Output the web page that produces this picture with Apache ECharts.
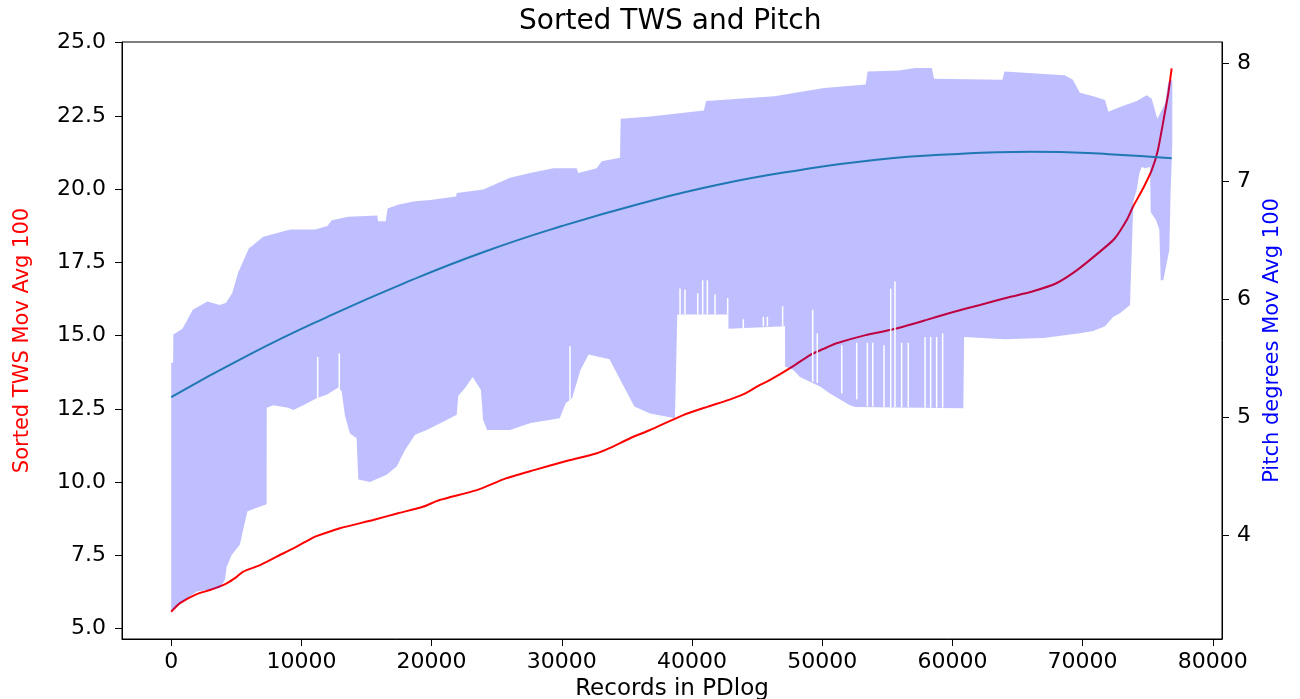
<!DOCTYPE html>
<html>
<head>
<meta charset="utf-8">
<script src="https://cdn.jsdelivr.net/npm/echarts@6/dist/echarts.min.js"></script>
<style>html,body{margin:0;padding:0;background:#fff}#c{width:1300px;height:699px}</style>
</head>
<body>
<div id="c"></div>
<script>
// ---- data ----
const xTicks = [0, 10000, 20000, 30000, 40000, 50000, 60000, 70000, 80000];
const leftTicks = [5, 7.5, 10, 12.5, 15, 17.5, 20, 22.5, 25];
const rightTicks = [4, 5, 6, 7, 8];

// Sorted TWS moving average (left axis)
const twsSorted = [
  [0,5.58],[675,5.87],[1960,6.18],[2980,6.32],[4260,6.55],[5030,6.77],[5540,6.95],[6820,7.17],
  [8100,7.46],[9380,7.74],[10660,8.05],[11050,8.14],[12960,8.43],[15510,8.71],[17420,8.94],
  [19330,9.16],[20610,9.39],[23470,9.73],[25700,10.13],[27930,10.42],[30150,10.70],[32700,10.99],
  [33660,11.16],[35250,11.50],[36780,11.78],[39320,12.29],[41230,12.58],[42830,12.81],[44100,13.03],
  [45220,13.32],[46000,13.49],[47530,13.89],[49060,14.34],[50150,14.56],[51110,14.74],[53330,15.02],
  [55460,15.22],[58020,15.54],[60000,15.80],[62120,16.05],[64480,16.33],[66070,16.50],[67980,16.79],
  [69570,17.24],[71170,17.81],[72430,18.30],[73390,18.95],[73870,19.40],[74670,20.05],[75310,20.65],
  [75780,21.33],[76260,22.47],[76580,23.27],[76840,24.12]
];

// Pitch moving average: upper and lower envelope of the dense oscillation (right axis)
const pitchUpper = [
  [0,5.46],[150,5.46],[160,5.70],[860,5.75],[1660,5.91],[2770,5.98],[3730,5.95],[4210,5.97],
  [4680,6.05],[5160,6.23],[5800,6.39],[5960,6.43],[7070,6.53],[9140,6.59],[11050,6.59],[12000,6.62],
  [12330,6.67],[13600,6.70],[15830,6.71],[15890,6.66],[16470,6.66],[16620,6.77],[17420,6.80],
  [18700,6.83],[19880,6.84],[21880,6.87],[21930,6.90],[23970,6.93],[26020,7.03],[27560,7.07],
  [29350,7.11],[31140,7.11],[31270,7.07],[32680,7.11],[33060,7.17],[34470,7.20],[34520,7.53],
  [36780,7.55],[40910,7.60],[41080,7.68],[46330,7.72],[47920,7.75],[50150,7.79],[53330,7.82],
  [53490,7.93],[55880,7.94],[57150,7.96],[58420,7.96],[58590,7.87],[63840,7.86],[64000,7.93],
  [68620,7.90],[69250,7.86],[69790,7.75],[70820,7.72],[71720,7.69],[71980,7.59],[72870,7.63],
  [74160,7.68],[74920,7.73],[75310,7.70],[75740,7.53],[76330,7.66],[76580,7.84],[76890,7.86]
];
const pitchLower = [
  [0,3.35],[675,3.42],[1960,3.52],[3750,3.55],[4130,3.62],[4260,3.73],[4650,3.83],[5280,3.92],
  [5540,4.05],[5850,4.20],[6310,4.22],[7330,4.26],[7340,5.08],[7840,5.10],[8990,5.08],[9380,5.06],
  [10150,5.10],[11170,5.16],[11940,5.19],[12840,5.25],[13090,5.22],[13350,5.01],[13730,4.86],
  [14240,4.82],[14370,4.47],[15270,4.45],[16550,4.51],[17320,4.58],[17960,4.72],[18730,4.85],
  [19620,4.89],[20900,4.96],[21930,5.02],[22050,5.18],[22600,5.25],[23150,5.34],[23790,5.23],
  [23950,4.98],[24260,4.89],[26020,4.89],[27610,4.95],[29840,4.99],[30310,5.12],[30790,5.16],
  [31430,5.40],[32060,5.53],[33660,5.49],[34620,5.29],[35570,5.09],[36780,5.03],[38690,4.99],
  [38870,5.87],[42790,5.87],[42800,5.75],[47140,5.77],[47150,5.43],[47780,5.40],[48290,5.34],
  [49060,5.30],[49830,5.26],[50600,5.20],[51370,5.15],[52130,5.10],[52520,5.085],[60840,5.075],
  [60900,5.68],[64000,5.66],[67000,5.67],[69790,5.71],[70820,5.73],[71720,5.77],[72360,5.85],
  [72870,5.88],[73640,5.95],[73900,6.83],[74160,6.93],[74360,7.07],[74540,7.12],[74790,7.11],
  [75180,7.12],[75230,6.74],[75640,6.67],[75890,6.59],[76000,6.16],[76200,6.16],[76660,6.42],
  [76760,6.90],[76890,7.32]
];
// thin white gaps inside the band: [x, low, high]
const pitchGaps = [
  [11250,5.16,5.51],[12910,5.24,5.54],[30630,5.14,5.60],
  [39080,5.87,6.09],[39460,5.87,6.08],[40440,5.87,6.05],[40820,5.87,6.16],[41180,5.87,6.16],
  [41770,5.87,6.04],[42740,5.87,6.01],[43940,5.75,5.83],[45480,5.77,5.85],[45790,5.77,5.85],
  [46960,5.77,5.94],[49270,5.30,5.91],[49620,5.29,5.71],[51500,5.20,5.61],[52650,5.15,5.63],
  [53470,5.09,5.63],[53880,5.09,5.63],[54750,5.085,5.61],[55260,5.085,6.09],[55590,5.085,6.15],
  [56100,5.085,5.63],[56610,5.085,5.63],[57900,5.08,5.68],[58330,5.08,5.68],[58790,5.08,5.68],
  [59250,5.08,5.71]
];
// fitted pitch trend (right axis)
const pitchTrend = [
  [0,5.17],[6000,5.53],[12000,5.85],[18000,6.14],[24000,6.40],[30000,6.62],[36000,6.81],
  [42000,6.97],[48000,7.09],[54000,7.18],[60000,7.23],[66000,7.25],[72000,7.23],[76840,7.195]
];

const FONT = 'DejaVu Sans';
const chart = echarts.init(document.getElementById('c'), null, {renderer: 'canvas'});
chart.setOption({
  animation: false,
  backgroundColor: '#fff',
  title: {
    text: 'Sorted TWS and Pitch',
    left: 514, top: 3,
    textStyle: {fontFamily: FONT, fontSize: 28, fontWeight: 'normal', color: '#000'}
  },
  grid: {left: 122, right: 78, top: 42, bottom: 60, show: true, borderColor: '#000', borderWidth: 1,
    containLabel: false, outerBoundsMode: 'none'},
  xAxis: {
    type: 'value', min: -3779, max: 80706,
    name: 'Records in PDlog', nameLocation: 'middle', nameGap: 33,
    nameTextStyle: {fontFamily: FONT, fontSize: 23, color: '#000'},
    axisLine: {show: true, onZero: false, lineStyle: {color: '#000', width: 1}},
    axisTick: {show: true, length: 7, customValues: xTicks, lineStyle: {color: '#000'}},
    axisLabel: {customValues: xTicks, fontFamily: FONT, fontSize: 22, color: '#000', margin: 12,
      formatter: v => String(v)},
    splitLine: {show: false}
  },
  yAxis: [{
    type: 'value', min: 4.648, max: 25.024, position: 'left',
    name: 'Sorted TWS Mov Avg 100', nameLocation: 'middle', nameGap: 89,
    nameTextStyle: {fontFamily: FONT, fontSize: 21, color: '#ff0000'},
    axisLine: {show: true, onZero: false, lineStyle: {color: '#000', width: 1}},
    axisTick: {show: true, length: 7, customValues: leftTicks, lineStyle: {color: '#000'}},
    axisLabel: {customValues: leftTicks, fontFamily: FONT, fontSize: 22, color: '#000', margin: 16,
      formatter: v => v.toFixed(1)},
    splitLine: {show: false}
  }, {
    type: 'value', min: 3.118, max: 8.181, position: 'right',
    name: 'Pitch degrees Mov Avg 100', nameLocation: 'middle', nameGap: 36,
    nameTextStyle: {fontFamily: FONT, fontSize: 21, color: '#0000ff'},
    axisLine: {show: true, onZero: false, lineStyle: {color: '#000', width: 1}},
    axisTick: {show: true, length: 7, customValues: rightTicks, lineStyle: {color: '#000'}},
    axisLabel: {customValues: rightTicks, fontFamily: FONT, fontSize: 22, color: '#000', margin: 15,
      formatter: v => String(v)},
    splitLine: {show: false}
  }],
  series: [{
    name: 'Sorted TWS', type: 'line', xAxisIndex: 0, yAxisIndex: 0, z: 2,
    data: twsSorted, showSymbol: false, smooth: 0.2,
    lineStyle: {color: '#ff0000', width: 2}
  }, {
    name: 'Pitch band', type: 'custom', xAxisIndex: 0, yAxisIndex: 1, silent: true, z: 3,
    data: [[0, 5]],
    renderItem: function (params, api) {
      const pts = pitchUpper.map(p => api.coord(p))
        .concat(pitchLower.slice().reverse().map(p => api.coord(p)));
      return {type: 'polygon', shape: {points: pts}, style: {fill: 'rgba(0,0,255,0.25)', stroke: null}};
    }
  }, {
    name: 'Pitch gaps', type: 'custom', xAxisIndex: 0, yAxisIndex: 1, silent: true, z: 4,
    data: pitchGaps, encode: {x: 0, y: [1, 2]},
    renderItem: function (params, api) {
      const a = api.coord([api.value(0), api.value(1)]);
      const b = api.coord([api.value(0), api.value(2)]);
      return {type: 'line', shape: {x1: a[0], y1: a[1], x2: b[0], y2: b[1]},
        style: {stroke: '#ffffff', lineWidth: 1.5}};
    }
  }, {
    name: 'Pitch trend', type: 'line', xAxisIndex: 0, yAxisIndex: 1, z: 5,
    data: pitchTrend, showSymbol: false, smooth: true,
    lineStyle: {color: '#1f77b4', width: 2}
  }]
});
</script>
</body>
</html>
